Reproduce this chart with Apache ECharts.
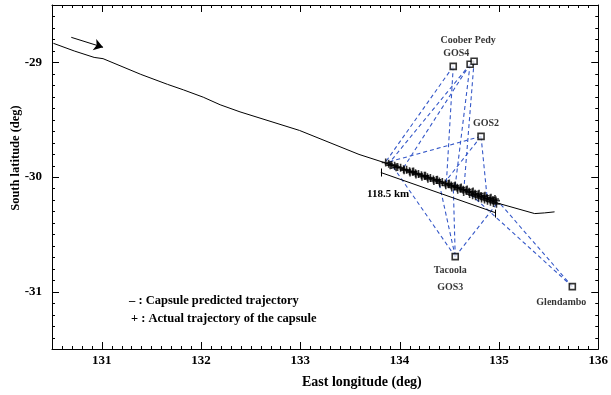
<!DOCTYPE html>
<html>
<head>
<meta charset="utf-8">
<script src="https://cdn.jsdelivr.net/npm/echarts@6/dist/echarts.min.js"></script>
<style>
  html, body { margin: 0; padding: 0; background: #fff; }
  #chart { width: 611px; height: 395px; }
</style>
</head>
<body>
<div id="chart"></div>
<script>
// 坐标轴范围和刻度标签
const lonRange = [130.5, 136];
const latRange = [-31.5, -28.5];
const lonTicks = [131, 132, 133, 134, 135, 136];
const latTicks = [-31, -30, -29];

// 预测轨迹 (实线)
const predLon = [130.514, 130.724, 130.924, 131.014, 131.394, 131.663, 131.823, 132.023, 132.193, 132.393,
  132.992, 133.591, 133.841, 134.390, 135.000, 135.360, 135.460, 135.560];
const predLat = [-28.834, -28.901, -28.957, -28.968, -29.105, -29.192, -29.240, -29.304, -29.370, -29.432,
  -29.594, -29.803, -29.873, -30.031, -30.231, -30.319, -30.313, -30.304];

// 实际轨迹 (+)
const capsuleLon = [133.86, 133.89, 133.92, 133.95, 133.98, 134.01, 134.04, 134.07, 134.10, 134.13,
  134.16, 134.19, 134.22, 134.25, 134.28, 134.31, 134.34, 134.37, 134.40, 134.43,
  134.46, 134.49, 134.52, 134.55, 134.58, 134.61, 134.64, 134.67, 134.70, 134.73,
  134.76, 134.79, 134.82, 134.85, 134.88, 134.91, 134.94, 134.97,
  133.905, 133.965, 134.045, 134.105, 134.165, 134.225, 134.285, 134.345, 134.405, 134.465,
  134.525, 134.585, 134.645, 134.705, 134.735, 134.765, 134.795, 134.825, 134.855, 134.885,
  134.915, 134.945, 134.975,
  134.14, 134.26, 134.38, 134.50, 134.56, 134.62, 134.68, 134.74, 134.80, 134.86, 134.92, 134.96];
const capsuleLat = [-29.874, -29.884, -29.896, -29.901, -29.913, -29.919, -29.932, -29.937, -29.950, -29.955,
  -29.968, -29.973, -29.985, -29.990, -30.003, -30.008, -30.021, -30.026, -30.039, -30.044,
  -30.057, -30.062, -30.075, -30.080, -30.093, -30.098, -30.111, -30.116, -30.129, -30.134,
  -30.147, -30.152, -30.165, -30.170, -30.183, -30.188, -30.201, -30.206,
  -29.898, -29.916, -29.941, -29.960, -29.978, -29.997, -30.016, -30.035, -30.054, -30.073,
  -30.092, -30.111, -30.130, -30.149, -30.159, -30.168, -30.178, -30.188, -30.197, -30.207,
  -30.216, -30.226, -30.234,
  -29.953, -29.989, -30.024, -30.057, -30.075, -30.092, -30.109, -30.127, -30.145, -30.163, -30.181, -30.192];

// 地面站
const stationNames = ["GOS4", "", "Coober Pedy", "GOS2", "Tacoola\nGOS3", "Glendambo"];
const stationLon = [134.540, 134.710, 134.750, 134.820, 134.560, 135.739];
const stationLat = [-29.035, -29.017, -28.991, -29.646, -30.694, -30.956];

// 观测视线 (虚线): 站号 -> 轨迹上的点
const rayStation = [0, 0, 1, 1, 1, 2, 3, 3, 3, 4, 4, 4, 4, 5, 5];
const rayLon = [133.862, 134.471, 133.891, 134.041, 134.560, 134.650, 133.871, 134.461, 134.882,
  133.931, 134.390, 134.540, 134.990, 134.640, 135.020];
const rayLat = [-29.865, -30.048, -29.882, -29.917, -30.074, -30.074, -29.873, -30.039, -30.188,
  -29.908, -30.022, -30.074, -30.221, -30.092, -30.240];

// 箭头 & 118.5 km 标尺
const arrowLon = [130.694, 131.014];
const arrowLat = [-28.782, -28.869];
const scaleLon = [[133.811, 134.960], [133.811, 133.811], [134.960, 134.960]];
const scaleLat = [[-29.961, -30.310], [-29.926, -29.996], [-30.284, -30.354]];

const serif = "Liberation Serif";
const labelOffsets = [[3, -13], [0, 0], [-6, -21], [5, -13], [-5, 22], [-11, 16]];

// 边框刻度: 每 0.1° 一个小刻度, 整数度为长刻度
const lonTickMarks = [];
for (let k = 0; k <= 55; k++) {
  const v = (1305 + k) / 10;
  lonTickMarks.push([v, Number.isInteger(v) ? 7 : 3]);
}
const latTickMarks = [];
for (let k = 0; k <= 30; k++) {
  const v = (-315 + k) / 10;
  latTickMarks.push([v, Number.isInteger(v) ? 7 : 3]);
}

const myChart = echarts.init(document.getElementById("chart"));

function frameAxis(position, range, ticks, showLabel, margin) {
  return {
    type: "value",
    position: position,
    min: range[0],
    max: range[1],
    axisLine: { show: true, onZero: false, lineStyle: { color: "#000", width: 1 } },
    axisTick: { show: false },
    axisLabel: {
      show: showLabel,
      customValues: ticks,
      margin: margin,
      color: "#000",
      fontFamily: serif,
      fontWeight: "bold",
      fontSize: 13,
    },
    splitLine: { show: false },
  };
}

function tickLine(x1, y1, x2, y2) {
  return { type: "line", shape: { x1: x1, y1: y1, x2: x2, y2: y2 }, style: { stroke: "#000", lineWidth: 1 } };
}

const option = {
  animation: false,
  backgroundColor: "#fff",
  grid: { left: 52, right: 10, top: 5, bottom: 46, containLabel: false },
  xAxis: [
    frameAxis("bottom", lonRange, lonTicks, true, 5),
    frameAxis("top", lonRange, lonTicks, false, 5),
  ],
  yAxis: [
    frameAxis("left", latRange, latTicks, true, 10),
    frameAxis("right", latRange, latTicks, false, 5),
  ],
  graphic: [
    {
      type: "text", left: 302, top: 375,
      style: { text: "East longitude (deg)", font: "bold 14px " + serif, fill: "#000" },
    },
    {
      type: "text", x: 16, y: 158, rotation: Math.PI / 2,
      style: { text: "South latitude (deg)", font: "bold 12.5px " + serif, fill: "#000", align: "center", verticalAlign: "middle" },
    },
    {
      type: "text", left: 129, top: 294,
      style: { text: "\u2013 : Capsule predicted trajectory", font: "bold 12.5px " + serif, fill: "#000" },
    },
    {
      type: "text", left: 131, top: 312,
      style: { text: "+ : Actual trajectory of the capsule", font: "bold 12.5px " + serif, fill: "#000" },
    },
    {
      type: "text", left: 367, top: 189,
      style: { text: "118.5 km", font: "bold 11px " + serif, fill: "#000" },
    },
  ],
  series: [
    {
      name: "Capsule predicted trajectory",
      type: "line",
      data: predLon.map((v, i) => [v, predLat[i]]),
      showSymbol: false,
      lineStyle: { color: "#000", width: 1 },
      z: 3,
    },
    {
      name: "rays",
      type: "lines",
      coordinateSystem: "cartesian2d",
      data: rayStation.map((s, i) => ({
        coords: [[stationLon[s], stationLat[s]], [rayLon[i], rayLat[i]]],
      })),
      lineStyle: { color: "#3558c8", width: 1.1, type: [4, 3], opacity: 1 },
      z: 2,
    },
    {
      name: "Actual trajectory of the capsule",
      type: "scatter",
      data: capsuleLon.map((v, i) => [v, capsuleLat[i]]),
      symbol: "path://M4,0h2v4h4v2h-4v4h-2v-4h-4v-2h4z",
      symbolSize: 8,
      itemStyle: { color: "#000" },
      z: 4,
    },
    {
      name: "arrow",
      type: "lines",
      coordinateSystem: "cartesian2d",
      data: [{ coords: [[arrowLon[0], arrowLat[0]], [arrowLon[1], arrowLat[1]]] }],
      symbol: ["none", "arrow"],
      symbolSize: 9,
      lineStyle: { color: "#000", width: 1, opacity: 1 },
      z: 3,
    },
    {
      name: "scale",
      type: "lines",
      coordinateSystem: "cartesian2d",
      data: scaleLon.map((lo, i) => ({
        coords: [[lo[0], scaleLat[i][0]], [lo[1], scaleLat[i][1]]],
      })),
      lineStyle: { color: "#000", width: 1, opacity: 1 },
      z: 3,
    },
    {
      name: "stations",
      type: "scatter",
      data: stationLon.map((v, i) => ({
        value: [v, stationLat[i]],
        name: stationNames[i],
        label: { offset: labelOffsets[i] },
      })),
      symbol: "rect",
      symbolSize: 6,
      itemStyle: { color: "#fff", borderColor: "#000", borderWidth: 1.6 },
      label: {
        show: true,
        position: "inside",
        formatter: "{b}",
        color: "#000",
        fontFamily: serif,
        fontWeight: "bold",
        fontSize: 10,
        lineHeight: 17,
      },
      z: 5,
    },
    // 经度刻度 (上下边框, 向内)
    {
      name: "lonTicks",
      type: "custom",
      clip: false,
      silent: true,
      data: lonTickMarks,
      renderItem: function (params, api) {
        const v = api.value(0);
        const len = api.value(1);
        const b = api.coord([v, latRange[0]]);
        const t = api.coord([v, latRange[1]]);
        const x = Math.round(b[0]) + 0.5;
        return {
          type: "group",
          children: [tickLine(x, b[1], x, b[1] - len), tickLine(x, t[1], x, t[1] + len)],
        };
      },
      z: 6,
    },
    // 纬度刻度 (左右边框, 向内)
    {
      name: "latTicks",
      type: "custom",
      clip: false,
      silent: true,
      encode: { x: 1, y: 0 },
      data: latTickMarks,
      renderItem: function (params, api) {
        const v = api.value(0);
        const len = api.value(1);
        const l = api.coord([lonRange[0], v]);
        const r = api.coord([lonRange[1], v]);
        const y = Math.round(l[1]) + 0.5;
        return {
          type: "group",
          children: [tickLine(l[0], y, l[0] + len, y), tickLine(r[0], y, r[0] - len, y)],
        };
      },
      z: 6,
    },
  ],
};
myChart.setOption(option);
</script>
</body>
</html>
